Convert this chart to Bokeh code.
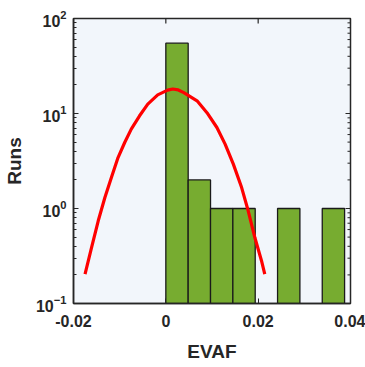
import math
from bokeh.plotting import figure
from bokeh.models import Range1d, FixedTicker, ColumnDataSource
from bokeh.embed import file_html
from bokeh.resources import INLINE

# Histogram of EVAF (bin edges and counts)
BIN_EDGES = [0.0, 0.00484, 0.00968, 0.01452, 0.01936, 0.0242, 0.02904, 0.03388, 0.03872]
COUNTS = [55, 2, 1, 1, 0, 1, 0, 1]

# Fitted curve
CURVE_X = [-0.01750, -0.01608, -0.01464, -0.01320, -0.01179, -0.01035, -0.00891, -0.00749,
           -0.00569, -0.00391, -0.00176, 0.00039, 0.00150, 0.00270, 0.00389, 0.00676,
           0.00891, 0.01106, 0.01284, 0.01462, 0.01642, 0.01784, 0.01928, 0.02072, 0.02143]
CURVE_Y = [0.204, 0.389, 0.742, 1.306, 2.12, 3.44, 4.95, 6.85,
           9.46, 12.56, 15.7, 17.6, 18.1, 17.7, 16.6, 13.6,
           10.2, 7.12, 4.76, 2.93, 1.66, 0.946, 0.495, 0.282, 0.204]

X_TICKS = [-0.02, 0.0, 0.02, 0.04]
X_TICK_LABELS = ["-0.02", "0", "0.02", "0.04"]
Y_DECADES = [0.1, 1, 10, 100]

FONT = "Liberation Sans"
TXT = "#262626"
X_MIN, X_MAX = -0.02, 0.04
Y_MIN, Y_MAX = 0.1, 100

p = figure(width=365, height=367, output_backend="svg", toolbar_location=None,
           y_axis_type="log",
           x_range=Range1d(X_MIN, X_MAX), y_range=Range1d(Y_MIN, Y_MAX),
           min_border_left=70, min_border_right=15, min_border_top=18, min_border_bottom=64)

p.background_fill_color = "#f2f6fb"
p.border_fill_color = "white"
p.outline_line_color = TXT
p.outline_line_width = 1.5
p.xgrid.visible = False
p.ygrid.visible = False

bars = [(l, r, c) for l, r, c in zip(BIN_EDGES[:-1], BIN_EDGES[1:], COUNTS) if c > 0]
src = ColumnDataSource(dict(left=[b[0] for b in bars], right=[b[1] for b in bars],
                            top=[b[2] for b in bars], bottom=[Y_MIN] * len(bars)))
p.quad(left="left", right="right", top="top", bottom="bottom", source=src,
       fill_color="#77ac30", line_color="#1a1a1a", line_width=1.3)

p.line(CURVE_X, CURVE_Y, line_color="#ff0000", line_width=3.2)

# mirrored tick marks on top and right edges of the box
minor_y = []
for dec in Y_DECADES[:-1]:
    minor_y += [dec * k for k in range(2, 10)]
p.scatter(x=X_TICKS, y=[Y_MAX] * len(X_TICKS), marker="dash", angle=math.pi / 2,
          size=10, line_color=TXT, line_width=1.2)
p.scatter(x=[X_MAX] * len(Y_DECADES), y=Y_DECADES, marker="dash",
          size=10, line_color=TXT, line_width=1.2)
p.scatter(x=[X_MAX] * len(minor_y), y=minor_y, marker="dash",
          size=6, line_color=TXT, line_width=1.0)

# bottom axis
xa = p.xaxis[0]
xa.ticker = FixedTicker(ticks=X_TICKS)
xa.major_label_overrides = {t: s for t, s in zip(X_TICKS, X_TICK_LABELS)}
xa.axis_label = "EVAF"
# left axis (default log ticker / formatter -> 10^n with superscripts)
ya = p.yaxis[0]
ya.axis_label = "Runs"

for ax in [xa, ya]:
    ax.axis_line_color = TXT
    ax.axis_line_width = 1.5
    ax.major_tick_in = 5
    ax.major_tick_out = 0
    ax.minor_tick_in = 3
    ax.minor_tick_out = 0
    ax.major_tick_line_color = TXT
    ax.minor_tick_line_color = TXT
    ax.major_label_text_font = FONT
    ax.major_label_text_font_style = "bold"
    ax.major_label_text_font_size = "16px"
    ax.major_label_text_color = TXT
    ax.axis_label_text_font = FONT
    ax.axis_label_text_font_style = "bold"
    ax.axis_label_text_font_size = "19px"
    ax.axis_label_text_color = TXT
xa.minor_tick_line_color = None
xa.major_label_standoff = 11
xa.axis_label_standoff = 11
ya.major_label_standoff = 7
ya.axis_label_standoff = 8

open("out.html", "w").write(file_html(p, INLINE))
